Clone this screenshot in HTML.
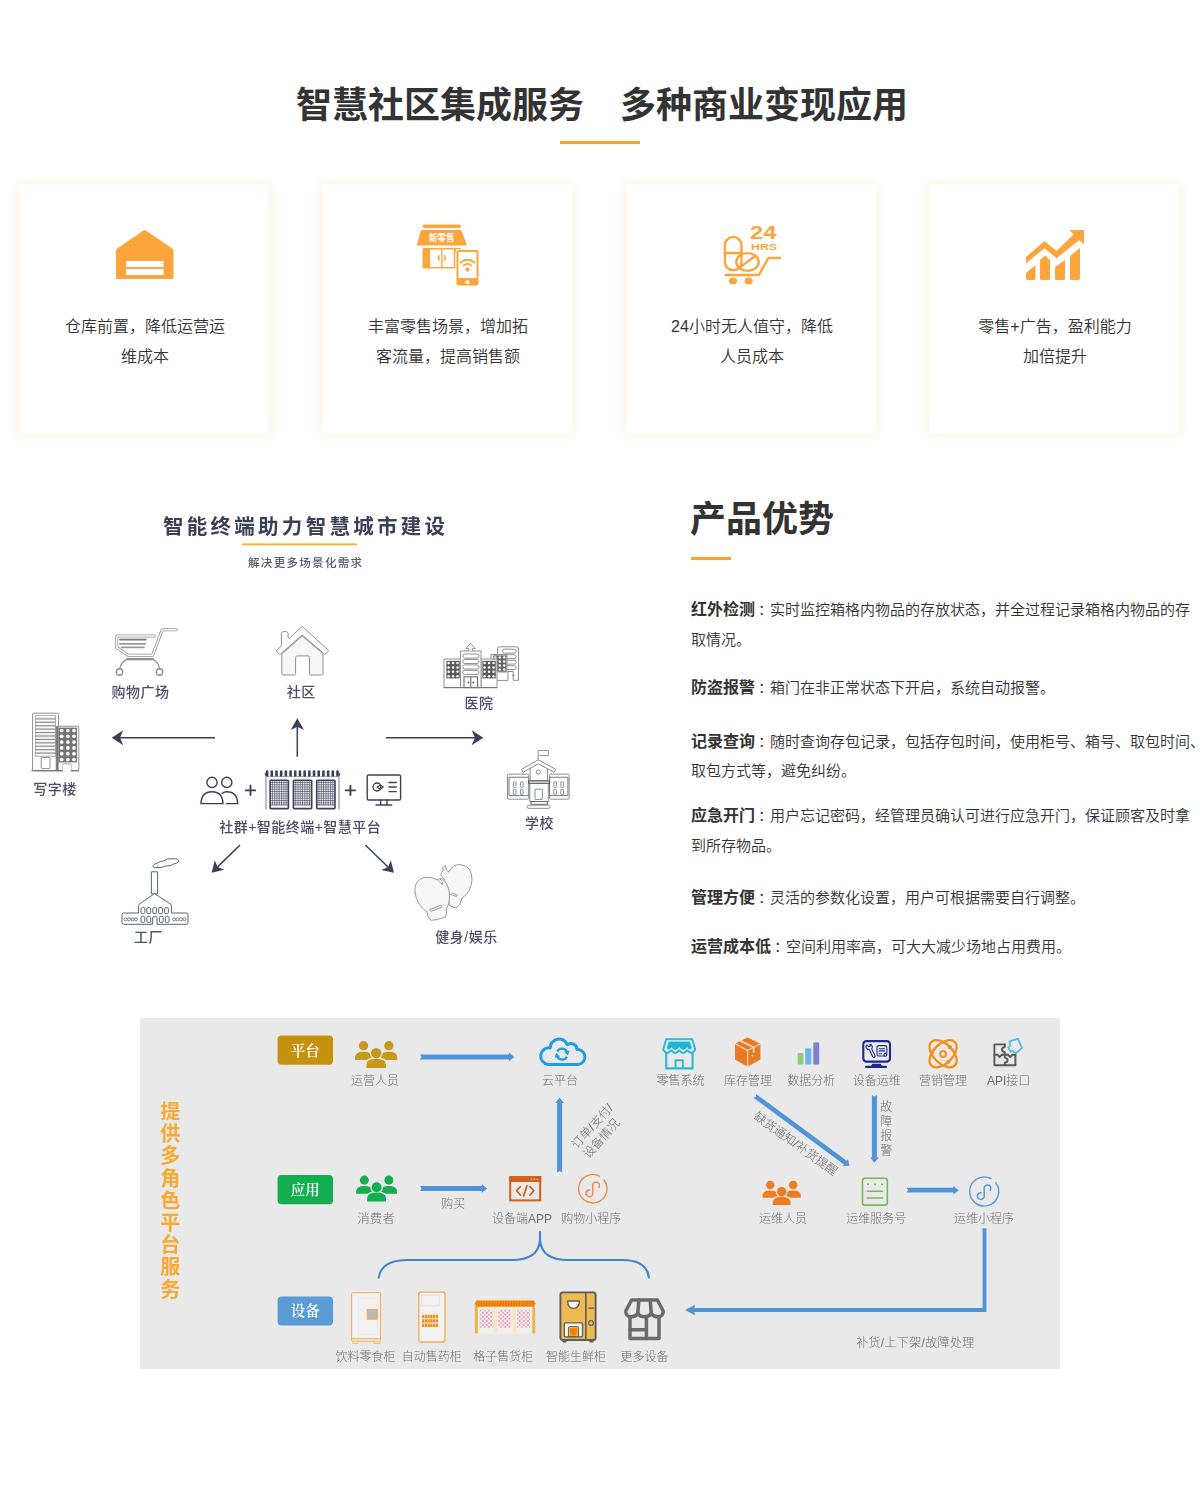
<!DOCTYPE html>
<html lang="zh-CN">
<head>
<meta charset="utf-8">
<title>智慧社区集成服务 多种商业变现应用</title>
<style>
*{margin:0;padding:0;box-sizing:border-box}
html,body{width:1200px;height:1509px;overflow:hidden;background:#fff}
body{font-family:"Liberation Sans","Noto Sans CJK SC",sans-serif;color:#333;position:relative}
.abs{position:absolute}
.title{left:2px;width:1200px;top:80px;height:52px;line-height:52px;text-align:center;font-size:36px;font-weight:700;color:#333;white-space:pre}
.bar{background:#f9a32b;height:3px}
.card{top:184px;width:250px;height:250px;background:#fff;box-shadow:0 0 10px rgba(255,166,0,.2)}
.card p{position:absolute;left:1px;width:250px;text-align:center;font-size:16px;font-weight:350;line-height:30px;height:30px;color:#333;white-space:nowrap}
.card svg{position:absolute;left:0;top:0}
.h2{left:690px;top:494px;height:52px;line-height:52px;font-size:36px;font-weight:700;color:#333;white-space:nowrap}
.ln{left:691px;height:30px;line-height:30px;font-size:15px;font-weight:350;color:#333;white-space:nowrap}
.ln i{font-style:normal;position:relative;left:3px}
.ln b{font-size:16px;font-weight:700;color:#333}
</style>
</head>
<body>

<!-- ===== Title ===== -->
<div class="abs title">智慧社区集成服务　多种商业变现应用</div>
<div class="abs bar" style="left:560px;top:141px;width:80px"></div>

<!-- ===== Cards ===== -->
<div class="abs card" style="left:19px">
  <svg width="250" height="250" viewBox="0 0 250 250"><path d="M98.5 64.3 L124.6 46.6 Q125.7 45.8 126.8 46.6 L153 64.3 Q154.5 65.3 154.5 67 V93.5 Q154.5 95 153 95 H98.5 Q97 95 97 93.5 V67 Q97 65.3 98.5 64.3Z" fill="#fca53d"/><rect x="107" y="77" width="37.5" height="6" fill="#fff"/><rect x="107" y="85" width="37.5" height="6" fill="#fff"/></svg>
  <p style="top:128px">仓库前置，降低运营运</p>
  <p style="top:158px">维成本</p>
</div>
<div class="abs card" style="left:322px">
  <svg width="250" height="250" viewBox="0 0 250 250"><rect x="100.5" y="40.5" width="38.5" height="3.6" rx="1.8" fill="#fca53d"/><path d="M100 46 H138 Q139.3 46 139.7 47.2 L144.6 60.3 Q145 61.6 143.6 61.6 H96 Q94.6 61.6 95 60.3 L98.6 47.2 Q99 46 100 46Z" fill="#fca53d"/><path d="M101.5 64 H139 V70 H133.5 V84.5 H101.5 Q100.5 84.5 100.5 83.5 V65 Q100.5 64 101.5 64Z" fill="#fca53d"/><rect x="108" y="65.5" width="11.2" height="17.5" fill="#fff"/><rect x="120.6" y="65.5" width="11.2" height="17.5" fill="#fff"/><rect x="116" y="71" width="1.5" height="6" rx=".7" fill="#fca53d"/><rect x="122.2" y="71" width="1.5" height="6" rx=".7" fill="#fca53d"/><rect x="133.4" y="64.9" width="24.2" height="37.7" rx="3" fill="#fff"/><rect x="134.5" y="66" width="22" height="35.5" rx="2.2" fill="#fca53d"/><rect x="136.5" y="68" width="18" height="26" fill="#fff"/><circle cx="145.5" cy="98.3" r="2" fill="#fff"/><circle cx="145.5" cy="85.6" r="2.1" fill="#fca53d"/><path d="M141.6 81.6 A5.4 5.4 0 0 1 149.4 81.6" fill="none" stroke="#fca53d" stroke-width="1.8" stroke-linecap="round"/><path d="M138.6 78.7 A9.6 9.6 0 0 1 152.4 78.7" fill="none" stroke="#fca53d" stroke-width="1.8" stroke-linecap="round"/><text x="119.6" y="56.8" font-size="8.6" font-weight="700" fill="#fff" text-anchor="middle" font-family="'Liberation Sans','Noto Sans CJK SC',sans-serif">新零售</text></svg>
  <p style="top:128px">丰富零售场景，增加拓</p>
  <p style="top:158px">客流量，提高销售额</p>
</div>
<div class="abs card" style="left:626px">
  <svg width="250" height="250" viewBox="0 0 250 250"><g fill="none" stroke="#fca53d" stroke-width="2.4" stroke-linecap="round" stroke-linejoin="round"><rect x="98.9" y="52.9" width="16.6" height="33.4" rx="8.3"/><path d="M99 69 H115.4"/><ellipse cx="121.5" cy="78" rx="11.2" ry="8.9"/><path d="M113.6 83.6 L129.2 72"/><path d="M99.5 91 H133 L142.3 74 H154"/></g><ellipse cx="107" cy="97" rx="4.1" ry="3.6" fill="#fca53d"/><ellipse cx="122.6" cy="97" rx="4.1" ry="3.6" fill="#fca53d"/><text x="124" y="55" font-size="18" font-weight="700" fill="#fca53d" textLength="26.5" lengthAdjust="spacingAndGlyphs" font-family="'Liberation Sans',sans-serif">24</text><text x="125" y="65.6" font-size="9.2" font-weight="700" fill="#fca53d" textLength="26" lengthAdjust="spacingAndGlyphs" font-family="'Liberation Sans',sans-serif">HRS</text></svg>
  <p style="top:128px">24小时无人值守，降低</p>
  <p style="top:158px">人员成本</p>
</div>
<div class="abs card" style="left:929px">
  <svg width="250" height="250" viewBox="0 0 250 250"><g fill="#fca53d"><path d="M97 89 L106.5 81 V94.5 Q106.5 96 105 96 H98.5 Q97 96 97 94.5Z"/><path d="M111 76 L115.5 72 Q116 71.6 116.5 72 L121 76 V94.5 Q121 96 119.5 96 H112.5 Q111 96 111 94.5Z"/><path d="M126 83 L136 76 V94.5 Q136 96 134.5 96 H127.5 Q126 96 126 94.5Z"/><path d="M141 72 L151 64 V94.5 Q151 96 149.500 96 H142.5 Q141 96 141 94.5Z"/><path d="M97 73 L115.5 57 L127.5 67 L144.6 50.6 L140.6 46 H155 V60.4 L150.6 56 L127.5 74.2 L115.5 64.2 L97 79.4Z"/></g></svg>
  <p style="top:128px">零售+广告，盈利能力</p>
  <p style="top:158px">加倍提升</p>
</div>

<!-- ===== Product advantages ===== -->
<div class="abs h2">产品优势</div>
<div class="abs bar" style="left:691px;top:557px;width:40px"></div>

<div class="abs ln" style="top:595px"><b>红外检测</b><i>：</i>实时监控箱格内物品的存放状态，并全过程记录箱格内物品的存</div>
<div class="abs ln" style="top:625px">取情况。</div>
<div class="abs ln" style="top:673px"><b>防盗报警</b><i>：</i>箱门在非正常状态下开启，系统自动报警。</div>
<div class="abs ln" style="top:727px"><b>记录查询</b><i>：</i>随时查询存包记录，包括存包时间，使用柜号、箱号、取包时间、</div>
<div class="abs ln" style="top:756px">取包方式等，避免纠纷。</div>
<div class="abs ln" style="top:801px"><b>应急开门</b><i>：</i>用户忘记密码，经管理员确认可进行应急开门，保证顾客及时拿</div>
<div class="abs ln" style="top:831px">到所存物品。</div>
<div class="abs ln" style="top:883px"><b>管理方便</b><i>：</i>灵活的参数化设置，用户可根据需要自行调整。</div>
<div class="abs ln" style="top:932px"><b>运营成本低</b><i>：</i>空间利用率高，可大大减少场地占用费用。</div>

<!-- ===== City illustration ===== -->
<!--CITY-START-->
<svg class="abs" style="left:0;top:490px;filter:blur(.3px)" width="640" height="480" viewBox="0 490 640 480" font-family="'Liberation Sans','Noto Sans CJK SC',sans-serif">
<text x="304" y="533.5" font-size="20.5" font-weight="700" fill="#3b4058" text-anchor="middle" textLength="282" lengthAdjust="spacing">智能终端助力智慧城市建设</text>
<rect x="242" y="543.4" width="115" height="2" fill="#f5b33a"/>
<text x="305" y="567" font-size="11.5" font-weight="500" fill="#555b6e" text-anchor="middle" textLength="114" lengthAdjust="spacing">解决更多场景化需求</text>
<g fill="none" stroke-linecap="round" stroke-linejoin="round">
<path d="M154.5 636 H118.3 Q116.7 636 116.7 637.6 V647.6 L128 655.2 H152.6 L161.8 630.9 Q162.3 629.7 163.8 629.7 H176.2" stroke="#8f8f8f" stroke-width="3"/>
<path d="M154.5 636 H118.3 Q116.7 636 116.7 637.6 V647.6 L128 655.2 H152.6 L161.8 630.9 Q162.3 629.7 163.8 629.7 H176.2" stroke="#fff" stroke-width="1.5"/>
<path d="M127 659.1 H153" stroke="#8f8f8f" stroke-width="2.4"/>
<path d="M127 659.5 Q121 662 119.8 668.6 M153 659.5 Q158.4 662 159.5 668.6" stroke="#8f8f8f" stroke-width="1.3"/>
<circle cx="119.6" cy="672" r="3.2" stroke="#8f8f8f" stroke-width="1.4"/><circle cx="159.6" cy="672" r="3.2" stroke="#8f8f8f" stroke-width="1.4"/>
<path d="M120 639.6 H145.8" stroke="#777" stroke-width="1.8"/><path d="M120 643.8 H145.4" stroke="#9a9a9a" stroke-width="1.8"/><path d="M121.5 647.3 H144" stroke="#9a9a9a" stroke-width="1.8"/>
</g>
<text x="140.5" y="697" font-size="14" font-weight="500" fill="#4b5067" text-anchor="middle" letter-spacing="0.5">购物广场</text>
<path d="M281.8 653.5 V673.6 Q281.8 675 283.2 675 H294.2 Q295.6 675 295.6 673.6 V657.4 Q295.6 655.9 297.1 655.9 H308 Q309.5 655.9 309.5 657.4 V673.6 Q309.5 675 310.9 675 H321.6 Q323 675 323 673.6 V653.5 L302.3 635.5Z" fill="#f7f7f7" stroke="#8f8f8f" stroke-width="1"/>
<polygon points="302.2,626.3 328.6,650.7 324.9,654.5 302.2,635 279.9,654.5 276.1,651 281.4,645.8 281.4,633.2 282.8,631.6 286.7,631.6 288.1,633.2 288.1,637.6 289.3,638.4" fill="#fff" stroke="#8f8f8f" stroke-width="1" stroke-linejoin="round"/>
<path d="M281.3 654.6 L302.2 636.3 L323.6 654.6" fill="none" stroke="#b5b5b5" stroke-width="1"/>
<text x="301.2" y="696.6" font-size="14" font-weight="500" fill="#4b5067" text-anchor="middle" letter-spacing="0.5">社区</text>
<path d="M497.5 654.5 V649 Q497.5 646.8 499.7 646.8 H516.3 Q518.5 646.8 518.5 649 V680.3 H513.2 V671.5 H508 V680.4 H497 " fill="#fff" stroke="#8f8f8f" stroke-width="1"/>
<rect x="502.5" y="649.2" width="13.6" height="3.9" rx="1.9" fill="#fff" stroke="#8f8f8f" stroke-width="1"/>
<rect x="502.5" y="654.7" width="13.6" height="3.9" rx="1.9" fill="#fff" stroke="#8f8f8f" stroke-width="1"/>
<rect x="502.5" y="660.2" width="13.6" height="3.9" rx="1.9" fill="#fff" stroke="#8f8f8f" stroke-width="1"/>
<rect x="502.5" y="665.7" width="13.6" height="3.9" rx="1.9" fill="#fff" stroke="#8f8f8f" stroke-width="1"/>
<rect x="491" y="654.5" width="16" height="17.5" rx="0" fill="#fff" stroke="#8f8f8f" stroke-width="1"/>
<rect x="493.2" y="655.4" width="13.2" height="16.2" fill="#666"/>
<circle cx="495.4" cy="657.42" r="1.2" fill="#fff"/>
<circle cx="495.4" cy="661.48" r="1.2" fill="#fff"/>
<circle cx="495.4" cy="665.52" r="1.2" fill="#fff"/>
<circle cx="495.4" cy="669.57" r="1.2" fill="#fff"/>
<circle cx="499.8" cy="657.42" r="1.2" fill="#fff"/>
<circle cx="499.8" cy="661.48" r="1.2" fill="#fff"/>
<circle cx="499.8" cy="665.52" r="1.2" fill="#fff"/>
<circle cx="499.8" cy="669.57" r="1.2" fill="#fff"/>
<circle cx="504.2" cy="657.42" r="1.2" fill="#fff"/>
<circle cx="504.2" cy="661.48" r="1.2" fill="#fff"/>
<circle cx="504.2" cy="665.52" r="1.2" fill="#fff"/>
<circle cx="504.2" cy="669.57" r="1.2" fill="#fff"/>
<circle cx="513.3" cy="675.6" r="0.8" fill="#5a5a5a"/>
<rect x="444" y="659" width="17" height="28.5" rx="0" fill="#fff" stroke="#8f8f8f" stroke-width="1"/>
<rect x="446.4" y="660.8" width="13.35" height="17.6" fill="#5a5a5a"/>
<circle cx="448.62" cy="663.0" r="1.25" fill="#fff"/>
<circle cx="448.62" cy="667.4" r="1.25" fill="#fff"/>
<circle cx="448.62" cy="671.8" r="1.25" fill="#fff"/>
<circle cx="448.62" cy="676.2" r="1.25" fill="#fff"/>
<circle cx="453.07" cy="663.0" r="1.25" fill="#fff"/>
<circle cx="453.07" cy="667.4" r="1.25" fill="#fff"/>
<circle cx="453.07" cy="671.8" r="1.25" fill="#fff"/>
<circle cx="453.07" cy="676.2" r="1.25" fill="#fff"/>
<circle cx="457.52" cy="663.0" r="1.25" fill="#fff"/>
<circle cx="457.52" cy="667.4" r="1.25" fill="#fff"/>
<circle cx="457.52" cy="671.8" r="1.25" fill="#fff"/>
<circle cx="457.52" cy="676.2" r="1.25" fill="#fff"/>
<rect x="481" y="659" width="16" height="28.5" rx="0" fill="#fff" stroke="#8f8f8f" stroke-width="1"/>
<rect x="482.4" y="660.8" width="13.35" height="17.6" fill="#5a5a5a"/>
<circle cx="484.62" cy="663.0" r="1.25" fill="#fff"/>
<circle cx="484.62" cy="667.4" r="1.25" fill="#fff"/>
<circle cx="484.62" cy="671.8" r="1.25" fill="#fff"/>
<circle cx="484.62" cy="676.2" r="1.25" fill="#fff"/>
<circle cx="489.07" cy="663.0" r="1.25" fill="#fff"/>
<circle cx="489.07" cy="667.4" r="1.25" fill="#fff"/>
<circle cx="489.07" cy="671.8" r="1.25" fill="#fff"/>
<circle cx="489.07" cy="676.2" r="1.25" fill="#fff"/>
<circle cx="493.52" cy="663.0" r="1.25" fill="#fff"/>
<circle cx="493.52" cy="667.4" r="1.25" fill="#fff"/>
<circle cx="493.52" cy="671.8" r="1.25" fill="#fff"/>
<circle cx="493.52" cy="676.2" r="1.25" fill="#fff"/>
<rect x="460.6" y="651" width="20.4" height="36.5" rx="0" fill="#fff" stroke="#8f8f8f" stroke-width="1"/>
<rect x="462.8" y="654.0" width="16.2" height="4.1" rx="2" fill="#fff" stroke="#8f8f8f" stroke-width="1"/>
<rect x="462.8" y="659.45" width="16.2" height="4.1" rx="2" fill="#fff" stroke="#8f8f8f" stroke-width="1"/>
<rect x="462.8" y="664.9" width="16.2" height="4.1" rx="2" fill="#fff" stroke="#8f8f8f" stroke-width="1"/>
<rect x="462.8" y="670.35" width="16.2" height="4.1" rx="2" fill="#fff" stroke="#8f8f8f" stroke-width="1"/>
<path d="M468.90000000000003 651 V648.6 H466.0 L470.6 643.3 L475.20000000000005 648.6 H472.3 V651" fill="#fff" stroke="#8f8f8f" stroke-width="1" stroke-linejoin="round"/>
<rect x="464" y="676.8" width="13.6" height="10.7" rx="0" fill="#fff" stroke="#777" stroke-width="1.2"/>
<path d="M470.8 676.8 V687.5" stroke="#777" stroke-width="1.2"/>
<circle cx="468.4" cy="682.5" r="0.9" fill="#5a5a5a"/><circle cx="473.2" cy="682.5" r="0.9" fill="#5a5a5a"/>
<path d="M444 687.6 H497" stroke="#777" stroke-width="1.3"/>
<text x="479" y="708.4" font-size="14" font-weight="500" fill="#4b5067" text-anchor="middle" letter-spacing="0.5">医院</text>
<rect x="32.6" y="713.2" width="26" height="57.6" rx="1" fill="#fff" stroke="#8f8f8f" stroke-width="1"/>
<rect x="35" y="715.4" width="21" height="41.2" fill="#8c8c8c"/>
<rect x="35.6" y="716.05" width="19.8" height="2.25" fill="#f6f6f6"/>
<rect x="35.6" y="719.47" width="19.8" height="2.25" fill="#f6f6f6"/>
<rect x="35.6" y="722.89" width="19.8" height="2.25" fill="#f6f6f6"/>
<rect x="35.6" y="726.31" width="19.8" height="2.25" fill="#f6f6f6"/>
<rect x="35.6" y="729.73" width="19.8" height="2.25" fill="#f6f6f6"/>
<rect x="35.6" y="733.15" width="19.8" height="2.25" fill="#f6f6f6"/>
<rect x="35.6" y="736.57" width="19.8" height="2.25" fill="#f6f6f6"/>
<rect x="35.6" y="739.99" width="19.8" height="2.25" fill="#f6f6f6"/>
<rect x="35.6" y="743.41" width="19.8" height="2.25" fill="#f6f6f6"/>
<rect x="35.6" y="746.83" width="19.8" height="2.25" fill="#f6f6f6"/>
<rect x="35.6" y="750.25" width="19.8" height="2.25" fill="#f6f6f6"/>
<rect x="35.6" y="753.67" width="19.8" height="2.25" fill="#f6f6f6"/>
<rect x="41.2" y="757.4" width="8.8" height="11.2" rx="1" fill="#fff" stroke="#8f8f8f" stroke-width="1"/>
<rect x="56.2" y="726.2" width="22.6" height="44.6" rx="1" fill="#fff" stroke="#8f8f8f" stroke-width="1"/>
<rect x="56.2" y="726.5" width="2.4" height="44.3" fill="#777"/>
<rect x="58.6" y="727.6" width="18.45" height="34.8" fill="#747474"/>
<circle cx="61.68" cy="730.5" r="1.85" fill="#fff"/>
<circle cx="61.68" cy="736.3" r="1.85" fill="#fff"/>
<circle cx="61.68" cy="742.1" r="1.85" fill="#fff"/>
<circle cx="61.68" cy="747.9" r="1.85" fill="#fff"/>
<circle cx="61.68" cy="753.7" r="1.85" fill="#fff"/>
<circle cx="61.68" cy="759.5" r="1.85" fill="#fff"/>
<circle cx="67.83" cy="730.5" r="1.85" fill="#fff"/>
<circle cx="67.83" cy="736.3" r="1.85" fill="#fff"/>
<circle cx="67.83" cy="742.1" r="1.85" fill="#fff"/>
<circle cx="67.83" cy="747.9" r="1.85" fill="#fff"/>
<circle cx="67.83" cy="753.7" r="1.85" fill="#fff"/>
<circle cx="67.83" cy="759.5" r="1.85" fill="#fff"/>
<circle cx="73.97" cy="730.5" r="1.85" fill="#fff"/>
<circle cx="73.97" cy="736.3" r="1.85" fill="#fff"/>
<circle cx="73.97" cy="742.1" r="1.85" fill="#fff"/>
<circle cx="73.97" cy="747.9" r="1.85" fill="#fff"/>
<circle cx="73.97" cy="753.7" r="1.85" fill="#fff"/>
<circle cx="73.97" cy="759.5" r="1.85" fill="#fff"/>
<path d="M63 771 V764 H71 V771" fill="#fff" stroke="#8f8f8f" stroke-width="1"/>
<rect x="62.9" y="764.6" width="8.2" height="7" fill="#fff"/>
<path d="M31.5 770.6 H63 M71 770.6 H79" stroke="#777" stroke-width="1.4"/>
<text x="55" y="793.5" font-size="14" font-weight="500" fill="#4b5067" text-anchor="middle" letter-spacing="0.5">写字楼</text>
<path d="M215.00 737.70 L120.00 737.70" stroke="#3b4058" stroke-width="1.5" fill="none"/>
<path d="M111.70 737.70 L123.30 730.20 L120.00 737.70 L123.30 745.20Z" fill="#3b4058"/>
<path d="M297.30 756.70 L297.30 726.70" stroke="#3b4058" stroke-width="1.5" fill="none"/>
<path d="M297.30 718.30 L304.00 730.00 L297.30 726.70 L290.60 730.00Z" fill="#3b4058"/>
<path d="M386.00 737.70 L475.00 737.70" stroke="#3b4058" stroke-width="1.5" fill="none"/>
<path d="M483.30 737.70 L471.70 745.20 L475.00 737.70 L471.70 730.20Z" fill="#3b4058"/>
<path d="M240.00 845.00 L217.63 866.89" stroke="#3b4058" stroke-width="1.5" fill="none"/>
<path d="M211.70 872.70 L214.80 860.15 L217.63 866.89 L224.32 869.87Z" fill="#3b4058"/>
<path d="M365.30 845.00 L388.03 866.94" stroke="#3b4058" stroke-width="1.5" fill="none"/>
<path d="M394.00 872.70 L381.36 869.95 L388.03 866.94 L390.81 860.17Z" fill="#3b4058"/>
<g fill="none" stroke="#3b4058" stroke-width="1.4" stroke-linecap="round">
<circle cx="212" cy="782.4" r="5.1"/><circle cx="226.8" cy="782.4" r="5.1"/>
<path d="M201 803.6 Q201.5 791.8 212 791.8 Q222.5 791.8 223 803.6 Z"/>
<path d="M222.2 793.4 Q224.2 791.8 226.8 791.8 Q237.2 791.8 237.7 803.6 H226.5"/>
<path d="M245.8 790.4 H255.2 M250.5 785.7 V795.1 M345.7 790.4 H355.1 M350.4 785.7 V795.1" stroke-width="1.9"/>
<rect x="367.2" y="775" width="33.4" height="25" rx="1.6"/>
<path d="M380.6 800 V804.6 M387 800 V804.6 M376 805 H391.7"/>
<circle cx="377" cy="787" r="4"/><path d="M377 787 L380.6 785 M377 787 L380.6 789.2" stroke-width="1.1"/><circle cx="381.6" cy="787" r="1.4" stroke-width="1"/>
<path d="M389 782.5 H396.3 M389 787 H396.3 M389 791.6 H396.3"/>
</g>
<path d="M265.6 776.5 H339.6" stroke="#8d91a3" stroke-width=".7"/>
<path d="M265.80 776.6 V771.4 Q265.80 770.2 267.10 770.2 Q268.40 770.2 268.40 771.4 V776.6Z" fill="#3b4058"/>
<path d="M270.49 776.6 V771.4 Q270.49 770.2 271.79 770.2 Q273.09 770.2 273.09 771.4 V776.6Z" fill="#3b4058"/>
<path d="M275.19 776.6 V771.4 Q275.19 770.2 276.49 770.2 Q277.79 770.2 277.79 771.4 V776.6Z" fill="#3b4058"/>
<path d="M279.88 776.6 V771.4 Q279.88 770.2 281.18 770.2 Q282.48 770.2 282.48 771.4 V776.6Z" fill="#3b4058"/>
<path d="M284.57 776.6 V771.4 Q284.57 770.2 285.87 770.2 Q287.17 770.2 287.17 771.4 V776.6Z" fill="#3b4058"/>
<path d="M289.26 776.6 V771.4 Q289.26 770.2 290.56 770.2 Q291.87 770.2 291.87 771.4 V776.6Z" fill="#3b4058"/>
<path d="M293.96 776.6 V771.4 Q293.96 770.2 295.26 770.2 Q296.56 770.2 296.56 771.4 V776.6Z" fill="#3b4058"/>
<path d="M298.65 776.6 V771.4 Q298.65 770.2 299.95 770.2 Q301.25 770.2 301.25 771.4 V776.6Z" fill="#3b4058"/>
<path d="M303.34 776.6 V771.4 Q303.34 770.2 304.64 770.2 Q305.94 770.2 305.94 771.4 V776.6Z" fill="#3b4058"/>
<path d="M308.04 776.6 V771.4 Q308.04 770.2 309.34 770.2 Q310.64 770.2 310.64 771.4 V776.6Z" fill="#3b4058"/>
<path d="M312.73 776.6 V771.4 Q312.73 770.2 314.03 770.2 Q315.33 770.2 315.33 771.4 V776.6Z" fill="#3b4058"/>
<path d="M317.42 776.6 V771.4 Q317.42 770.2 318.72 770.2 Q320.02 770.2 320.02 771.4 V776.6Z" fill="#3b4058"/>
<path d="M322.12 776.6 V771.4 Q322.12 770.2 323.42 770.2 Q324.72 770.2 324.72 771.4 V776.6Z" fill="#3b4058"/>
<path d="M326.81 776.6 V771.4 Q326.81 770.2 328.11 770.2 Q329.41 770.2 329.41 771.4 V776.6Z" fill="#3b4058"/>
<path d="M331.50 776.6 V771.4 Q331.50 770.2 332.80 770.2 Q334.10 770.2 334.10 771.4 V776.6Z" fill="#3b4058"/>
<path d="M336.19 776.6 V771.4 Q336.19 770.2 337.50 770.2 Q338.80 770.2 338.80 771.4 V776.6Z" fill="#3b4058"/>
<path d="M265.8 776.6 L264.6 774.6 L265.8 772 Z M338.8 776.6 L340.4 774.6 L338.8 772Z" fill="#3b4058"/>
<path d="M266 777 V809.6 M339 777 V809.6" stroke="#8d91a3" stroke-width="1.2"/>
<rect x="269.3" y="779.4" width="19.9" height="30" rx="1" fill="#fff"/>
<path d="M272.39 780.2 V805 M274.68 780.2 V805 M276.97 780.2 V805 M279.26 780.2 V805 M281.55 780.2 V805 M283.84 780.2 V805 M286.13 780.2 V805 M270.1 782.46 H288.40000000000003 M270.1 784.72 H288.40000000000003 M270.1 786.98 H288.40000000000003 M270.1 789.24 H288.40000000000003 M270.1 791.50 H288.40000000000003 M270.1 793.76 H288.40000000000003 M270.1 796.02 H288.40000000000003 M270.1 798.28 H288.40000000000003 M270.1 800.54 H288.40000000000003 M270.1 802.80 H288.40000000000003" stroke="#3b4058" stroke-width=".62" fill="none"/>
<rect x="270.1" y="780.2" width="18.3" height="28.4" rx=".8" fill="none" stroke="#3b4058" stroke-width="1.6"/>
<path d="M270.1 805 H288.40000000000003" stroke="#3b4058" stroke-width=".8"/>
<rect x="292.6" y="779.4" width="19.9" height="30" rx="1" fill="#fff"/>
<path d="M295.69 780.2 V805 M297.98 780.2 V805 M300.27 780.2 V805 M302.56 780.2 V805 M304.85 780.2 V805 M307.14 780.2 V805 M309.43 780.2 V805 M293.40000000000003 782.46 H311.70000000000005 M293.40000000000003 784.72 H311.70000000000005 M293.40000000000003 786.98 H311.70000000000005 M293.40000000000003 789.24 H311.70000000000005 M293.40000000000003 791.50 H311.70000000000005 M293.40000000000003 793.76 H311.70000000000005 M293.40000000000003 796.02 H311.70000000000005 M293.40000000000003 798.28 H311.70000000000005 M293.40000000000003 800.54 H311.70000000000005 M293.40000000000003 802.80 H311.70000000000005" stroke="#3b4058" stroke-width=".62" fill="none"/>
<rect x="293.40000000000003" y="780.2" width="18.3" height="28.4" rx=".8" fill="none" stroke="#3b4058" stroke-width="1.6"/>
<path d="M293.40000000000003 805 H311.70000000000005" stroke="#3b4058" stroke-width=".8"/>
<rect x="315.9" y="779.4" width="19.9" height="30" rx="1" fill="#fff"/>
<path d="M318.99 780.2 V805 M321.28 780.2 V805 M323.57 780.2 V805 M325.86 780.2 V805 M328.15 780.2 V805 M330.44 780.2 V805 M332.73 780.2 V805 M316.7 782.46 H335.0 M316.7 784.72 H335.0 M316.7 786.98 H335.0 M316.7 789.24 H335.0 M316.7 791.50 H335.0 M316.7 793.76 H335.0 M316.7 796.02 H335.0 M316.7 798.28 H335.0 M316.7 800.54 H335.0 M316.7 802.80 H335.0" stroke="#3b4058" stroke-width=".62" fill="none"/>
<rect x="316.7" y="780.2" width="18.3" height="28.4" rx=".8" fill="none" stroke="#3b4058" stroke-width="1.6"/>
<path d="M316.7 805 H335.0" stroke="#3b4058" stroke-width=".8"/>
<text x="300" y="831.6" font-size="14" font-weight="500" fill="#474c63" text-anchor="middle" textLength="161.5" lengthAdjust="spacing">社群+智能终端+智慧平台</text>
<g fill="#fff" stroke="#5d6278" stroke-width="1" stroke-linejoin="round">
<path d="M152.8 866.6 Q153.5 863.5 157.5 863 Q160 861 163.5 861 Q167 858 173 858.8 Q178.5 858 178.8 861.3 Q177.5 863.6 173.5 864 Q170.5 866.6 165.5 866 Q161 868.4 157 867.4 Q153.3 868.6 152.8 866.6Z"/>
<rect x="151.4" y="871.8" width="6.2" height="22"/>
<path d="M154.5 893.6 L139.2 904.3 Q138.6 904.8 138.6 905.8 V913 H123.6 Q122 913 122 914.6 V922.7 Q122 924.3 123.6 924.3 H152.6 V918 Q152.6 916.6 154 916.6 H155.6 Q157 916.6 157 918 V924.3 H186.4 Q188 924.3 188 922.7 V914.6 Q188 913 186.4 913 H171.4 V905.8 Q171.4 904.8 170.8 904.3Z"/>
<rect x="141.00" y="907.6" width="3.8" height="6" rx="1.2"/>
<rect x="146.90" y="907.6" width="3.8" height="6" rx="1.2"/>
<rect x="152.80" y="907.6" width="3.8" height="6" rx="1.2"/>
<rect x="158.70" y="907.6" width="3.8" height="6" rx="1.2"/>
<rect x="164.60" y="907.6" width="3.8" height="6" rx="1.2"/>
<rect x="141" y="916.4" width="3.8" height="6" rx="1.2"/>
<rect x="146.9" y="916.4" width="3.8" height="6" rx="1.2"/>
<rect x="159.4" y="916.4" width="3.8" height="6" rx="1.2"/>
<rect x="165.3" y="916.4" width="3.8" height="6" rx="1.2"/>
<rect x="124.00" y="917.8" width="2.9" height="3" rx="1.3" stroke-width=".8"/>
<rect x="172.60" y="917.8" width="2.9" height="3" rx="1.3" stroke-width=".8"/>
<rect x="127.50" y="917.8" width="2.9" height="3" rx="1.3" stroke-width=".8"/>
<rect x="176.10" y="917.8" width="2.9" height="3" rx="1.3" stroke-width=".8"/>
<rect x="131.00" y="917.8" width="2.9" height="3" rx="1.3" stroke-width=".8"/>
<rect x="179.60" y="917.8" width="2.9" height="3" rx="1.3" stroke-width=".8"/>
<rect x="134.50" y="917.8" width="2.9" height="3" rx="1.3" stroke-width=".8"/>
<rect x="183.10" y="917.8" width="2.9" height="3" rx="1.3" stroke-width=".8"/>
</g>
<text x="148.6" y="941.6" font-size="14" font-weight="500" fill="#4b5067" text-anchor="middle" letter-spacing="0.5">工厂</text>
<g fill="#f7f7f7" stroke="#9a9a9a" stroke-width="1" stroke-linejoin="round" stroke-linecap="round">
<path d="M443.5 870.5 Q441 867 445.5 865.5 Q446 871.5 449 872 Q452 864.5 460 864.5 Q472.5 866 472 880 Q471 892 462 898 Q461 905 456 908 Q452.5 907 449.5 905.5 Q448 898 449 893 Q447 884 443.5 878 Q438 875 443.5 870.5Z"/>
<path d="M450.5 894.5 L456.5 896.5 Q458 896 456.8 894.8 L452 893" fill="none"/>
<path d="M415 893 Q413.5 880 424 877.5 Q432 876.5 438 880 Q440.5 876.5 444 880.5 Q449 886 449.5 895 Q449.5 905 446 909 Q447.5 914 445.5 917 Q437 920.5 431 920.3 Q427.5 918 427 912 Q417 905 415 893Z"/>
<path d="M440 878.8 Q443.5 882.5 442.5 884.8 Q440.5 882.5 438.5 880.5" fill="#fff"/>
<path d="M430 909.4 L440.6 905.3 Q442.3 905.4 441.8 907 L431.2 911.2 Q429.3 911 430 909.4Z" fill="#fff"/>
</g>
<text x="466.5" y="941.6" font-size="14" font-weight="500" fill="#4b5067" text-anchor="middle" letter-spacing="0.5">健身/娱乐</text>
<g fill="#fff" stroke="#8a8c99" stroke-width="1" stroke-linejoin="round">
<rect x="507.50" y="774.17" width="21.25" height="25.00" rx="1"/>
<rect x="549.58" y="774.17" width="19.58" height="25.00" rx="1"/>
<rect x="509.00" y="777.25" width="19.75" height="18.42" stroke="#777"/>
<rect x="549.58" y="777.25" width="18.33" height="18.42" stroke="#777"/>
<rect x="513.33" y="781.67" width="2.67" height="6.00" rx="1.3"/>
<rect x="513.33" y="789.33" width="2.67" height="5.17" rx=".6"/>
<rect x="520.42" y="781.67" width="2.67" height="6.00" rx="1.3"/>
<rect x="520.42" y="789.33" width="2.67" height="5.17" rx=".6"/>
<rect x="553.75" y="781.67" width="2.67" height="6.00" rx="1.3"/>
<rect x="553.75" y="789.33" width="2.67" height="5.17" rx=".6"/>
<rect x="560.83" y="781.67" width="2.67" height="6.00" rx="1.3"/>
<rect x="560.83" y="789.33" width="2.67" height="5.17" rx=".6"/>
<path d="M530.17 780.83 V768.33 L538.33 763.33 L547.50 768.33 V780.83Z"/>
<circle cx="538.33" cy="772.08" r="2.1"/>
<path d="M538.17 759.83 L555.83 769.33 L554.17 772.33 L538.17 763.75 L522.92 772.33 L521.50 769.33Z"/>
<path d="M538.17 759.83 V750.42 H548.33 V755.42 H539.17" fill="#fff"/>
<rect x="529.83" y="782.92" width="18.50" height="19.17"/>
<rect x="528.50" y="780.83" width="21.08" height="2.50" stroke="#555" fill="#ddd"/>
<rect x="535.00" y="789.17" width="7.33" height="10.17"/>
<rect x="531.00" y="801.50" width="16.50" height="2.83" stroke="#666"/>
<rect x="527.08" y="805.17" width="23.08" height="3.17" rx="1.5"/>
</g>
<text x="539.6" y="828" font-size="14" font-weight="500" fill="#4b5067" text-anchor="middle" letter-spacing="0.5">学校</text>
</svg>
<!--CITY-END-->

<!-- ===== Platform diagram ===== -->
<!--PLAT-START-->
<svg class="abs" style="left:140px;top:1018px;filter:blur(.4px)" width="920" height="351" viewBox="140 1018 920 351" font-family="'Liberation Sans','Noto Sans CJK SC',sans-serif">
<rect x="140" y="1018" width="920" height="351" fill="#e9e9e9"/>
<text x="170.2" y="1119.0" font-size="20" font-weight="700" fill="#faa830" text-anchor="middle">提</text>
<text x="170.2" y="1141.2" font-size="20" font-weight="700" fill="#faa830" text-anchor="middle">供</text>
<text x="170.2" y="1163.4" font-size="20" font-weight="700" fill="#faa830" text-anchor="middle">多</text>
<text x="170.2" y="1185.6" font-size="20" font-weight="700" fill="#faa830" text-anchor="middle">角</text>
<text x="170.2" y="1207.8" font-size="20" font-weight="700" fill="#faa830" text-anchor="middle">色</text>
<text x="170.2" y="1230.0" font-size="20" font-weight="700" fill="#faa830" text-anchor="middle">平</text>
<text x="170.2" y="1252.2" font-size="20" font-weight="700" fill="#faa830" text-anchor="middle">台</text>
<text x="170.2" y="1274.4" font-size="20" font-weight="700" fill="#faa830" text-anchor="middle">服</text>
<text x="170.2" y="1296.6" font-size="20" font-weight="700" fill="#faa830" text-anchor="middle">务</text>
<rect x="277.6" y="1035.5" width="55.4" height="29.2" rx="4" fill="#c4920f"/>
<text x="305.3" y="1055.5" font-size="14.5" font-weight="600" fill="#fff" text-anchor="middle" font-family="'Liberation Serif','Noto Serif CJK SC',serif">平台</text>
<rect x="277.6" y="1175" width="55.4" height="29.2" rx="4" fill="#14ae52"/>
<text x="305.3" y="1195" font-size="14.5" font-weight="600" fill="#fff" text-anchor="middle" font-family="'Liberation Serif','Noto Serif CJK SC',serif">应用</text>
<rect x="277.6" y="1296.4" width="55.4" height="29.2" rx="4" fill="#5b9bd5"/>
<text x="305.3" y="1316.4" font-size="14.5" font-weight="600" fill="#fff" text-anchor="middle" font-family="'Liberation Serif','Noto Serif CJK SC',serif">设备</text>
<g transform="translate(376.2 1054.5) scale(1.06)">
<circle cx="-11.95" cy="-8.3" r="4.4" fill="#c8981c"/>
<path d="M-19.95 5.10 V3.00 Q-19.95 -2.50 -11.95 -2.50 Q-3.95 -2.50 -3.95 3.00 V5.10Z" fill="#c8981c"/>
<circle cx="11.95" cy="-8.3" r="4.4" fill="#c8981c"/>
<path d="M3.95 5.10 V3.00 Q3.95 -2.50 11.95 -2.50 Q19.95 -2.50 19.95 3.00 V5.10Z" fill="#c8981c"/>
<circle cx="0" cy="-1.30" r="6.1" fill="#e9e9e9"/>
<path d="M-10.6 13.90 V9.30 Q-10.6 2.60 0 2.60 Q10.6 2.60 10.6 9.30 V13.90Z" fill="#e9e9e9"/>
<circle cx="0" cy="-1.30" r="4.9" fill="#c8981c"/>
<path d="M-9.2 12.70 V9.70 Q-9.2 3.90 0 3.90 Q9.2 3.90 9.2 9.70 V12.70Z" fill="#c8981c"/>
</g>
<g transform="translate(376.6 1188.6) scale(1.025)">
<circle cx="-11.95" cy="-8.3" r="4.4" fill="#14ae52"/>
<path d="M-19.95 5.10 V3.00 Q-19.95 -2.50 -11.95 -2.50 Q-3.95 -2.50 -3.95 3.00 V5.10Z" fill="#14ae52"/>
<circle cx="11.95" cy="-8.3" r="4.4" fill="#14ae52"/>
<path d="M3.95 5.10 V3.00 Q3.95 -2.50 11.95 -2.50 Q19.95 -2.50 19.95 3.00 V5.10Z" fill="#14ae52"/>
<circle cx="0" cy="-1.30" r="6.1" fill="#e9e9e9"/>
<path d="M-10.6 13.90 V9.30 Q-10.6 2.60 0 2.60 Q10.6 2.60 10.6 9.30 V13.90Z" fill="#e9e9e9"/>
<circle cx="0" cy="-1.30" r="4.9" fill="#14ae52"/>
<path d="M-9.2 12.70 V9.70 Q-9.2 3.90 0 3.90 Q9.2 3.90 9.2 9.70 V12.70Z" fill="#14ae52"/>
</g>
<g transform="translate(781.7 1192.9) scale(0.96)">
<circle cx="-11.95" cy="-8.3" r="4.4" fill="#ee7c20"/>
<path d="M-19.95 5.10 V3.00 Q-19.95 -2.50 -11.95 -2.50 Q-3.95 -2.50 -3.95 3.00 V5.10Z" fill="#ee7c20"/>
<circle cx="11.95" cy="-8.3" r="4.4" fill="#ee7c20"/>
<path d="M3.95 5.10 V3.00 Q3.95 -2.50 11.95 -2.50 Q19.95 -2.50 19.95 3.00 V5.10Z" fill="#ee7c20"/>
<circle cx="0" cy="-1.30" r="6.1" fill="#e9e9e9"/>
<path d="M-10.6 13.90 V9.30 Q-10.6 2.60 0 2.60 Q10.6 2.60 10.6 9.30 V13.90Z" fill="#e9e9e9"/>
<circle cx="0" cy="-1.30" r="4.9" fill="#ee7c20"/>
<path d="M-9.2 12.70 V9.70 Q-9.2 3.90 0 3.90 Q9.2 3.90 9.2 9.70 V12.70Z" fill="#ee7c20"/>
</g>
<polygon points="420.00,1054.60 421.60,1057.00 420.00,1059.40 509.00,1059.40 509.00,1061.30 514.40,1057.00 509.00,1052.70 509.00,1054.60" fill="#4f93d9"/>
<polygon points="420.00,1186.10 421.60,1188.50 420.00,1190.90 481.80,1190.90 481.80,1192.80 487.20,1188.50 481.80,1184.20 481.80,1186.10" fill="#4f93d9"/>
<polygon points="557.10,1172.60 559.60,1171.00 562.10,1172.60 562.10,1102.90 563.90,1102.90 559.60,1097.50 555.30,1102.90 557.10,1102.90" fill="#4f93d9"/>
<polygon points="756.06,1093.95 755.99,1096.75 753.34,1097.65 843.99,1164.45 842.80,1166.06 849.70,1165.80 847.90,1159.13 846.72,1160.75" fill="#4f93d9"/>
<polygon points="876.90,1095.00 874.40,1096.60 871.90,1095.00 871.90,1157.40 870.10,1157.40 874.40,1162.80 878.70,1157.40 876.90,1157.40" fill="#4f93d9"/>
<polygon points="906.50,1187.80 908.10,1190.20 906.50,1192.60 953.30,1192.60 953.30,1194.50 958.70,1190.20 953.30,1185.90 953.30,1187.80" fill="#4f93d9"/>
<path d="M984.5 1228.2 V1310 H690" fill="none" stroke="#4f93d9" stroke-width="3.8"/>
<polygon points="685,1310 695.4,1304.5 693.4,1310 695.4,1315.5" fill="#4f93d9"/>
<path d="M378.7 1277.5 C380.5 1266 391 1260 408 1260 H512 C530 1260 539 1253 540 1240 V1232 M540 1240 C541 1253 550 1260 568 1260 H622 C638 1260 647.5 1266 649 1277.5" fill="none" stroke="#3f86d2" stroke-width="2.1" stroke-linecap="round"/>
<path d="M547.9 1064.4 H578 A7.4 7.4 0 0 0 577 1049.6 A6.1 6.1 0 0 0 567.3 1044.7 A8.9 8.9 0 0 0 550.1 1047.9 A8.3 8.3 0 0 0 547.9 1064.4Z" fill="none" stroke="#1a9fe3" stroke-width="3" stroke-linejoin="round"/>
<g fill="none" stroke="#1a9fe3" stroke-width="2.4"><path d="M557.3 1051.6 A5.2 5.2 0 0 1 567 1052.4"/><path d="M566.8 1056.8 A5.2 5.2 0 0 1 557.2 1056"/></g>
<polygon points="564.2,1051.6 569.6,1050.6 568,1055.6" fill="#1a9fe3"/><polygon points="560,1056.8 554.6,1057.8 556.2,1052.8" fill="#1a9fe3"/>
<text x="375" y="1085.2" font-size="12" font-weight="300" fill="#6f6f6f" text-anchor="middle" >运营人员</text>
<text x="560" y="1085.2" font-size="12" font-weight="300" fill="#6f6f6f" text-anchor="middle" >云平台</text>
<text x="680.4" y="1085.2" font-size="12" font-weight="300" fill="#6f6f6f" text-anchor="middle" >零售系统</text>
<text x="748" y="1085.2" font-size="12" font-weight="300" fill="#6f6f6f" text-anchor="middle" >库存管理</text>
<text x="811.2" y="1085.2" font-size="12" font-weight="300" fill="#6f6f6f" text-anchor="middle" >数据分析</text>
<text x="876.7" y="1085.2" font-size="12" font-weight="300" fill="#6f6f6f" text-anchor="middle" >设备运维</text>
<text x="943" y="1085.2" font-size="12" font-weight="300" fill="#6f6f6f" text-anchor="middle" >营销管理</text>
<text x="1008.7" y="1085.2" font-size="12" font-weight="300" fill="#6f6f6f" text-anchor="middle" >API接口</text>
<path d="M666.2 1052.6 V1068.4 H692.6 V1052.6" stroke="#2bb9d3" stroke-width="2.1" fill="none" stroke-linejoin="round"/>
<path d="M695.2 1049.6 Q691.3 1055.8 687.3 1050.2 Q683.3 1055.8 679.3 1050.2 Q675.2 1055.8 671.2 1050.2 Q667.2 1055.8 663.2 1049.6 L666.2 1039.3 H692.2 Z" fill="#eaf6f9" stroke="#2bb9d3" stroke-width="2" stroke-linejoin="round"/>
<path d="M668.8 1041.6 H689.8 L691.9 1048 Q689.6 1051.6 687.3 1047.2 Q683.3 1052.6 679.3 1047.2 Q675.2 1052.6 671.2 1047.2 Q669 1051.6 666.6 1048 Z" fill="#22b4d6"/>
<path d="M675.6 1068 V1060.2 H682.8 V1068" fill="none" stroke="#2bb9d3" stroke-width="2"/>
<polygon points="747.6,1037.6 760.4,1043.8 760.4,1059.4 747.6,1066.8 735,1059.4 735,1043.8" fill="#e87a24"/>
<path d="M735 1043.8 L747.6 1050.4 L760.4 1043.8 M747.6 1050.4 V1066.8" stroke="#f6e3d3" stroke-width="1.1" fill="none"/>
<path d="M740.6 1040.8 L753.6 1047.4 V1052.4" stroke="#f6e3d3" stroke-width="1.6" fill="none"/>
<circle cx="752.3" cy="1055.6" r="0.9" fill="#f6e3d3"/>
<rect x="797.6" y="1053" width="5.8" height="11.4" rx="1" fill="#8fca7c"/><rect x="805.2" y="1048.3" width="6" height="16.1" rx="1" fill="#6cb5e9"/><rect x="813.3" y="1042.4" width="5.9" height="22" rx="1" fill="#7c82cd"/>
<rect x="863.3" y="1041.1" width="26.7" height="20.5" rx="3.2" fill="#eeeef3" stroke="#1c2a8c" stroke-width="2.1"/>
<path d="M872.4 1063.7 H880.6 L882.2 1066.2 H870.8Z" fill="#1c2a8c"/><rect x="865" y="1065.8" width="22" height="2.2" rx="1.1" fill="#1c2a8c"/>
<path d="M866 1047.2 Q865.6 1045.4 867.4 1045 L868.6 1046.8 L870.4 1046 L869.8 1044.4 Q872 1044.6 872.4 1046.8 Q872.4 1048 871.6 1048.8 L875 1055.6 Q875.4 1057 874.2 1057.4 Q873 1057.6 872.6 1056.6 L869.4 1049.8 Q867 1049.6 866 1047.2Z" fill="none" stroke="#1c2a8c" stroke-width="1.1" stroke-linejoin="round"/>
<rect x="877" y="1045.6" width="9.8" height="10.4" rx="1.8" fill="none" stroke="#1c2a8c" stroke-width="1.1"/><path d="M878.8 1048.7 H885 M878.8 1050.9 H885 M878.8 1053.7 H882" stroke="#1c2a8c" stroke-width="1.1" fill="none"/><circle cx="885.3" cy="1054.8" r="1.4" fill="#eeeef3" stroke="#1c2a8c" stroke-width="1.1"/>
<g fill="none" stroke="#f0921e" stroke-width="2.3"><ellipse cx="943.1" cy="1053.7" rx="16.6" ry="9.6" transform="rotate(45 943.1 1053.7)"/><ellipse cx="943.1" cy="1053.7" rx="16.6" ry="9.6" transform="rotate(-45 943.1 1053.7)"/><circle cx="943.1" cy="1054" r="2.9" stroke-width="2"/></g>
<circle cx="949.8" cy="1047.1" r="2.2" fill="#f0921e"/><circle cx="948.4" cy="1061.8" r="2" fill="#f0921e"/><circle cx="932.2" cy="1052.6" r="2" fill="#f0921e"/>
<g fill="none" stroke="#585858" stroke-width="1.9" stroke-linejoin="round" stroke-linecap="round"><path d="M1004.8 1044.4 H994.4 V1065.2 H1015.4 V1054.8"/><path d="M994.4 1054.8 H997.6 L999.6 1057 L1001.6 1054.8 H1008.2 L1010.2 1057 L1012.2 1054.8 H1015.4"/><path d="M1004.8 1044.4 V1047 Q1002 1047.4 1002 1049.6 Q1002 1051.8 1004.8 1052.2 V1057.6 Q1007.6 1058 1007.6 1060.2 Q1007.6 1062.4 1004.8 1062.8 V1065.2"/></g>
<path d="M1009.6 1041.4 L1017.8 1038.6 L1022 1048 L1015.6 1053.4 L1012.6 1050.8 L1010.6 1051.6 L1008.2 1047.6 L1010.4 1045.6 Z" fill="#e9e9e9" stroke="#5ab5ea" stroke-width="1.8" stroke-linejoin="round"/>
<text transform="translate(592.4 1126.2) rotate(-48)" font-size="12" font-weight="300" fill="#6f6f6f" text-anchor="middle"><tspan x="0" y="4">订单/支付/</tspan></text>
<text transform="translate(601.6 1138.6) rotate(-48)" font-size="12" font-weight="300" fill="#6f6f6f" text-anchor="middle"><tspan x="0" y="4">设备情况</tspan></text>
<text transform="translate(795.8 1143.6) rotate(35.5)" font-size="12" font-weight="300" fill="#6f6f6f" text-anchor="middle"><tspan x="0" y="4.2">缺货通知/补货提醒</tspan></text>
<text x="886.3" y="1111.0" font-size="12" font-weight="300" fill="#6f6f6f" text-anchor="middle" >故</text>
<text x="886.3" y="1125.6" font-size="12" font-weight="300" fill="#6f6f6f" text-anchor="middle" >障</text>
<text x="886.3" y="1140.2" font-size="12" font-weight="300" fill="#6f6f6f" text-anchor="middle" >报</text>
<text x="886.3" y="1154.8" font-size="12" font-weight="300" fill="#6f6f6f" text-anchor="middle" >警</text>
<text x="376" y="1223.4" font-size="12.5" font-weight="300" fill="#6f6f6f" text-anchor="middle" >消费者</text>
<text x="453.3" y="1208" font-size="12" font-weight="300" fill="#6f6f6f" text-anchor="middle" >购买</text>
<text x="522" y="1223.2" font-size="12" font-weight="300" fill="#6f6f6f" text-anchor="middle" >设备端APP</text>
<text x="591.3" y="1223.2" font-size="12" font-weight="300" fill="#6f6f6f" text-anchor="middle" >购物小程序</text>
<text x="783" y="1223.2" font-size="12" font-weight="300" fill="#6f6f6f" text-anchor="middle" >运维人员</text>
<text x="876.2" y="1223.2" font-size="12" font-weight="300" fill="#6f6f6f" text-anchor="middle" >运维服务号</text>
<text x="984" y="1223.2" font-size="12" font-weight="300" fill="#6f6f6f" text-anchor="middle" >运维小程序</text>
<text x="915.4" y="1347" font-size="12" font-weight="300" fill="#6f6f6f" text-anchor="middle" letter-spacing=".35">补货/上下架/故障处理</text>
<rect x="510.2" y="1177.2" width="30" height="23.2" fill="none" stroke="#d2601a" stroke-width="2"/><rect x="509.2" y="1176.2" width="32" height="5.8" fill="#d2601a"/>
<circle cx="531.4" cy="1179.2" r=".8" fill="#f3d9c8"/><circle cx="534.4" cy="1179.2" r=".8" fill="#f3d9c8"/><circle cx="537.4" cy="1179.2" r=".8" fill="#f3d9c8"/>
<path d="M520.4 1186.6 L516.6 1190.8 L520.4 1195 M530 1186.6 L533.8 1190.8 L530 1195 M527 1185.6 L523.6 1196" fill="none" stroke="#d2601a" stroke-width="1.7" stroke-linecap="round" stroke-linejoin="round"/>
<path d="M599.47 1176.16 A14.2 14.2 0 1 0 603.99 1179.96" fill="none" stroke="#f08a4b" stroke-width="1.4" stroke-linecap="round"/>
<path d="M591.4 1192.9 A3.4 3.4 0 1 1 588.1999999999999 1189.9 M591.4 1192.9 V1184.5 A3.4 3.4 0 1 1 597.4 1187.5" fill="none" stroke="#f08a4b" stroke-width="1.5" stroke-linecap="round" transform="translate(1.4 0)"/>
<path d="M991.01 1178.70 A14.5 14.5 0 1 0 995.63 1182.57" fill="none" stroke="#5b9bd5" stroke-width="1.4" stroke-linecap="round"/>
<path d="M982.8000000000001 1195.7 A3.4 3.4 0 1 1 979.6 1192.7 M982.8000000000001 1195.7 V1187.3 A3.4 3.4 0 1 1 988.8000000000001 1190.3" fill="none" stroke="#5b9bd5" stroke-width="1.5" stroke-linecap="round" transform="translate(1.4 0)"/>
<rect x="862.5" y="1178.3" width="24.8" height="26.8" rx="2.4" fill="none" stroke="#77b951" stroke-width="1.6"/>
<circle cx="868" cy="1184.3" r="1" fill="#77b951"/><circle cx="875" cy="1184.3" r="1" fill="#77b951"/><circle cx="882" cy="1184.3" r="1" fill="#77b951"/>
<path d="M866.8 1191.3 H883.2 M866.8 1198 H883.2" stroke="#77b951" stroke-width="1.5"/>
<text x="365.4" y="1361.1" font-size="12" font-weight="300" fill="#6f6f6f" text-anchor="middle" >饮料零食柜</text>
<text x="431.7" y="1361.1" font-size="12" font-weight="300" fill="#6f6f6f" text-anchor="middle" >自动售药柜</text>
<text x="503.3" y="1361.1" font-size="12" font-weight="300" fill="#6f6f6f" text-anchor="middle" >格子售货柜</text>
<text x="576" y="1361.1" font-size="12" font-weight="300" fill="#6f6f6f" text-anchor="middle" >智能生鲜柜</text>
<text x="644.5" y="1361.1" font-size="12" font-weight="300" fill="#6f6f6f" text-anchor="middle" >更多设备</text>
<rect x="353" y="1340.6" width="5" height="3" fill="#f3efe9" stroke="#f3ab55" stroke-width=".8"/><rect x="374.6" y="1340.6" width="5" height="3" fill="#f3efe9" stroke="#f3ab55" stroke-width=".8"/>
<rect x="351.6" y="1292.6" width="29" height="48.6" rx="1" fill="#f1f1f1" stroke="#f3ab55" stroke-width="1"/>
<rect x="358.6" y="1298" width="19.4" height="36" fill="none" stroke="#e4e4e4" stroke-width=".8"/>
<path d="M351.6 1338.6 H380.6" stroke="#f3ab55" stroke-width="1"/>
<rect x="367.2" y="1309.4" width="10.2" height="9.8" fill="#b9b9b9" stroke="#f3ab55" stroke-width="1.1"/>
<rect x="418.8" y="1292.2" width="26.2" height="49.8" rx="2.2" fill="#f1f1f1" stroke="#f3ab55" stroke-width="1.3"/>
<rect x="421.6" y="1295.2" width="17.6" height="10.6" fill="none" stroke="#dcdcdc" stroke-width=".8"/>
<rect x="422.10" y="1314.80" width="2.2" height="3.4" fill="#f28c14"/>
<rect x="424.82" y="1314.80" width="2.2" height="3.4" fill="#f28c14"/>
<rect x="427.54" y="1314.80" width="2.2" height="3.4" fill="#f28c14"/>
<rect x="430.26" y="1314.80" width="2.2" height="3.4" fill="#f28c14"/>
<rect x="432.98" y="1314.80" width="2.2" height="3.4" fill="#f28c14"/>
<rect x="435.70" y="1314.80" width="2.2" height="3.4" fill="#f28c14"/>
<rect x="422.10" y="1319.20" width="2.2" height="3.4" fill="#f28c14"/>
<rect x="424.82" y="1319.20" width="2.2" height="3.4" fill="#f28c14"/>
<rect x="427.54" y="1319.20" width="2.2" height="3.4" fill="#f28c14"/>
<rect x="430.26" y="1319.20" width="2.2" height="3.4" fill="#f28c14"/>
<rect x="432.98" y="1319.20" width="2.2" height="3.4" fill="#f28c14"/>
<rect x="435.70" y="1319.20" width="2.2" height="3.4" fill="#f28c14"/>
<rect x="422.10" y="1323.60" width="2.2" height="3.4" fill="#f28c14"/>
<rect x="424.82" y="1323.60" width="2.2" height="3.4" fill="#f28c14"/>
<rect x="427.54" y="1323.60" width="2.2" height="3.4" fill="#f28c14"/>
<rect x="430.26" y="1323.60" width="2.2" height="3.4" fill="#f28c14"/>
<rect x="432.98" y="1323.60" width="2.2" height="3.4" fill="#f28c14"/>
<rect x="435.70" y="1323.60" width="2.2" height="3.4" fill="#f28c14"/>
<rect x="476" y="1306" width="58.4" height="28" fill="#f0efeb"/>
<defs><pattern id="pd" x="479.7" y="1309.6" width="4.1" height="4.1" patternUnits="userSpaceOnUse"><rect width="4.1" height="4.1" fill="#f1f5f1"/><rect x=".2" y=".2" width="1.7" height="1.7" fill="#ec87a6"/><rect x="2.25" y="2.25" width="1.7" height="1.7" fill="#ec87a6"/></pattern></defs>
<rect x="479.7" y="1309.6" width="13" height="18.2" fill="url(#pd)"/>
<rect x="498.2" y="1309.6" width="13" height="18.2" fill="url(#pd)"/>
<rect x="517" y="1309.6" width="13" height="18.2" fill="url(#pd)"/>
<rect x="474.9" y="1306" width="3" height="27.4" fill="#f2b44a"/><rect x="532.2" y="1306" width="3" height="27.4" fill="#f2b44a"/>
<rect x="493.4" y="1306" width="3.6" height="27.6" fill="#f7e6c6"/><rect x="512.4" y="1306" width="3.6" height="27.6" fill="#f7e6c6"/>
<path d="M476.6 1300.6 H533.6 L535.8 1303.7 L533.6 1306.8 H476.6 L474.4 1303.7Z" fill="#f6880b"/>
<rect x="478.30" y="1301" width=".9" height="5.4" fill="#e06f00" opacity=".7"/>
<rect x="481.02" y="1301" width=".9" height="5.4" fill="#e06f00" opacity=".7"/>
<rect x="483.74" y="1301" width=".9" height="5.4" fill="#e06f00" opacity=".7"/>
<rect x="486.46" y="1301" width=".9" height="5.4" fill="#e06f00" opacity=".7"/>
<rect x="489.18" y="1301" width=".9" height="5.4" fill="#e06f00" opacity=".7"/>
<rect x="491.90" y="1301" width=".9" height="5.4" fill="#e06f00" opacity=".7"/>
<rect x="494.62" y="1301" width=".9" height="5.4" fill="#e06f00" opacity=".7"/>
<rect x="497.34" y="1301" width=".9" height="5.4" fill="#e06f00" opacity=".7"/>
<rect x="500.06" y="1301" width=".9" height="5.4" fill="#e06f00" opacity=".7"/>
<rect x="502.78" y="1301" width=".9" height="5.4" fill="#e06f00" opacity=".7"/>
<rect x="505.50" y="1301" width=".9" height="5.4" fill="#e06f00" opacity=".7"/>
<rect x="508.22" y="1301" width=".9" height="5.4" fill="#e06f00" opacity=".7"/>
<rect x="510.94" y="1301" width=".9" height="5.4" fill="#e06f00" opacity=".7"/>
<rect x="513.66" y="1301" width=".9" height="5.4" fill="#e06f00" opacity=".7"/>
<rect x="516.38" y="1301" width=".9" height="5.4" fill="#e06f00" opacity=".7"/>
<rect x="519.10" y="1301" width=".9" height="5.4" fill="#e06f00" opacity=".7"/>
<rect x="521.82" y="1301" width=".9" height="5.4" fill="#e06f00" opacity=".7"/>
<rect x="524.54" y="1301" width=".9" height="5.4" fill="#e06f00" opacity=".7"/>
<rect x="527.26" y="1301" width=".9" height="5.4" fill="#e06f00" opacity=".7"/>
<rect x="529.98" y="1301" width=".9" height="5.4" fill="#e06f00" opacity=".7"/>
<rect x="532.70" y="1301" width=".9" height="5.4" fill="#e06f00" opacity=".7"/>
<rect x="562.4" y="1339.6" width="4.2" height="3" rx="1.4" fill="#5c5c5c"/><rect x="589.4" y="1339.6" width="4.2" height="3" rx="1.4" fill="#5c5c5c"/>
<rect x="560.4" y="1292.4" width="35.2" height="47.6" rx="2.6" fill="#edbb50" stroke="#5c5c5c" stroke-width="1.9"/>
<path d="M585.8 1292.4 V1340" stroke="#5c5c5c" stroke-width="1.6"/>
<path d="M567.6 1301 H579.4 Q579.2 1308.4 573.5 1308.4 Q567.8 1308.4 567.6 1301Z" fill="#f6f6f6" stroke="#5c5c5c" stroke-width="1.3" stroke-linejoin="round"/>
<rect x="564.3" y="1322.8" width="18.2" height="14" rx="1.2" fill="#f6f6f6" stroke="#5c5c5c" stroke-width="1.3"/>
<path d="M568.4 1336.6 V1327.8 Q568.4 1326.6 569.6 1326.6 H577.4 Q578.6 1326.6 578.6 1327.8 V1336.6Z" fill="#edbb50" stroke="#5c5c5c" stroke-width="1"/>
<path d="M569.8 1328.2 H577.2 L576.4 1335.6 H570.6Z" fill="#f28208"/>
<path d="M588.3 1308.1 H594" stroke="#5c5c5c" stroke-width="1.3"/><circle cx="591" cy="1323" r="2.3" fill="#d9c9a0" stroke="#5c5c5c" stroke-width="1.2"/>
<g fill="none" stroke="#6b6b6b" stroke-width="3.5" stroke-linejoin="round" stroke-linecap="round"><path d="M631.6 1300 H657.4 L663.2 1311 Q663.4 1316.8 657.6 1316.8 Q653.4 1316.8 651.2 1313.6 Q648.6 1316.8 644.5 1316.8 Q640.4 1316.8 637.8 1313.6 Q635.6 1316.8 631.4 1316.8 Q625.6 1316.8 625.8 1311Z"/><path d="M638.8 1300 L637.8 1313 M650.2 1300 L651.2 1313"/><path d="M630 1317 V1338.6 H659 V1317"/><path d="M630 1329.8 H646.4 M646.4 1317 V1338.6"/></g>
</svg>
<!--PLAT-END-->

</body>
</html>
